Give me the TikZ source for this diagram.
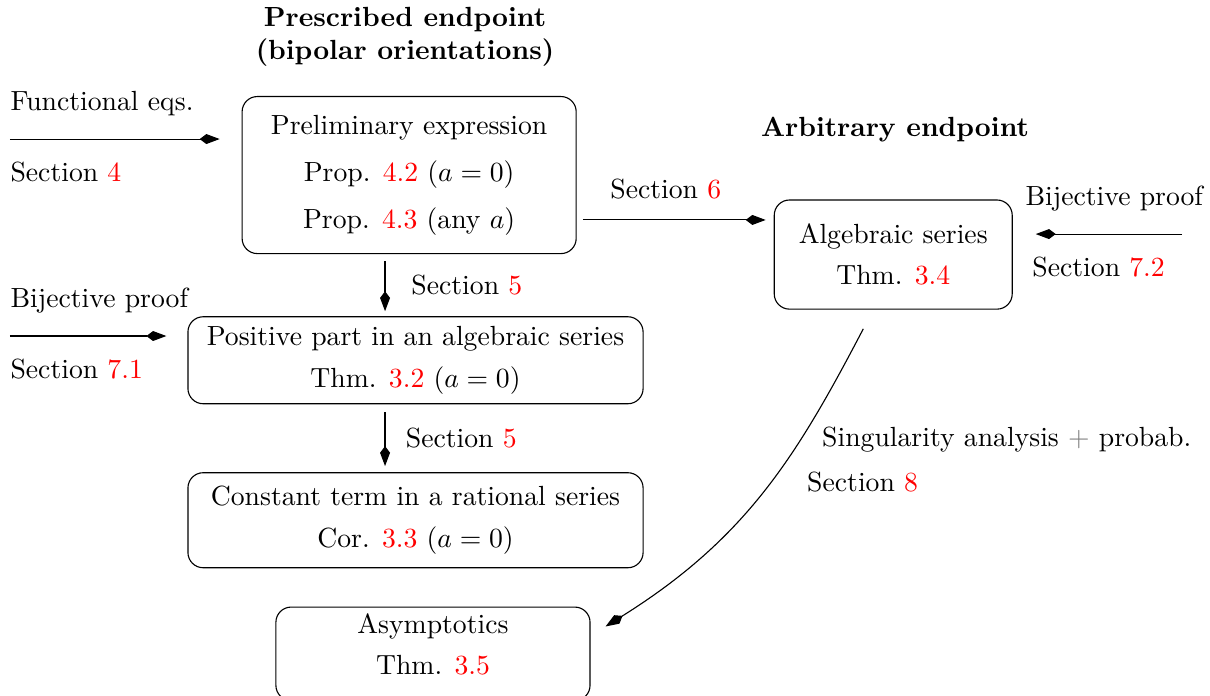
\documentclass[tikz,border=0pt]{standalone}
\usepackage{tikz}
\usetikzlibrary{positioning,arrows.meta}
\newcommand{\refnum}[1]{\textcolor{red}{#1}}
\tikzset{
	>={Kite[length=7.2pt,width=3.6pt,inset=2.4pt]},
	every text node part/.style={align=center}, ->,
	box/.style={draw, rounded corners=5.5pt},
	lbl/.style={inner xsep=0pt, inner ysep=8pt}
}

\begin{document}
\begin{tikzpicture}
		\useasboundingbox (0,0) rectangle (436.8pt,-250.9pt);

		\node(prescribed) at (146.2pt,-13.4pt) {\textbf{Prescribed endpoint}\\\textbf{(bipolar orientations)}};
		\node(pre)[box, minimum width=120.6pt, minimum height=56.7pt] at (147.7pt,-63.2pt) {Preliminary expression\\[5pt] Prop. \refnum{4.2} ($a=0$)\\[5pt] Prop. \refnum{4.3} (any $a$)};
		\node(pos)[box, below=22.4pt of pre, xshift=2.3pt, minimum width=164.3pt, minimum height=31.4pt] {Positive part in an algebraic series\\[3pt] Thm. \refnum{3.2} ($a=0$)};
		\node(con)[box, below=24.5pt of pos, minimum width=164.3pt, minimum height=34.3pt] {Constant term in a rational series\\[3pt] Cor. \refnum{3.3} ($a=0$)};
		\node(asy)[box, below=13.8pt of con, xshift=6.3pt, minimum width=113.4pt, inner ysep=2.3pt, text depth=7pt] {Asymptotics\\[3pt] Thm. \refnum{3.5}};
		\node(alg)[box, right=71.1pt of pre, yshift=-28.7pt, minimum width=85.9pt, minimum height=39.4pt] {Algebraic series\\[3pt] Thm. \refnum{3.4}};
		\node(arbitrary) at (323.1pt,-46.9pt) {\textbf{Arbitrary endpoint}};

		\coordinate(fe) at (3.6pt,-50.2pt);
		\coordinate(bl) at (3.6pt,-121.3pt);
		\coordinate(br) at (426.7pt,-84.5pt);
		\path (pre.east) ++(0,-16.2pt) coordinate(s6);
		\path (pre.south) ++(-8.7pt,0) coordinate(s5a);
		\path (pos.south) ++(-11pt,0) coordinate(s5b);
		\path (alg.south) ++(-10.8pt,-6.9pt) coordinate(s8);
		\path (asy.north east) ++(5.4pt,-7.2pt) coordinate(e8);

		\path (fe) edge[shorten >=7.9pt] node[lbl, pos=0, above right]{Functional eqs.} node[lbl, pos=0, below right]{Section \refnum{4}} (fe -| pre.west);
		\path (bl) edge[shorten >=7.6pt] node[lbl, pos=0, above right]{Bijective proof} node[lbl, pos=0, below right]{Section \refnum{7.1}} (bl -| pos.west);
		\path (br) edge[shorten >=8.3pt] node[lbl, pos=0, above right, xshift=-56.7pt]{Bijective proof} node[lbl, pos=0, below right, xshift=-54.2pt]{Section \refnum{7.2}} (br -| alg.east);
		\path (s6) edge[shorten <=2.2pt, shorten >=2.9pt] node[lbl, above, inner ysep=7.2pt, xshift=-3.4pt]{Section \refnum{6}} (s6 -| alg.west);
		\path (s5a) edge[shorten <=2.5pt, shorten >=1.8pt] node[right, xshift=6pt]{Section \refnum{5}} (s5a |- pos.north);
		\path (s5b) edge[shorten <=2.9pt, shorten >=2.2pt] node[right, xshift=4pt]{Section \refnum{5}} (s5b |- con.north);
		\draw (s8) .. controls +(242.4:52pt) and +(32:60pt) .. (e8);

		\node(singularity)[lbl, anchor=base west] at (296.6pt,-161.3pt) {Singularity analysis \textcolor{gray}{$+$} probab.};
		\node(section8)[lbl, anchor=base west] at (291.2pt,-177.6pt) {Section \refnum{8}};
\end{tikzpicture}
\end{document}
